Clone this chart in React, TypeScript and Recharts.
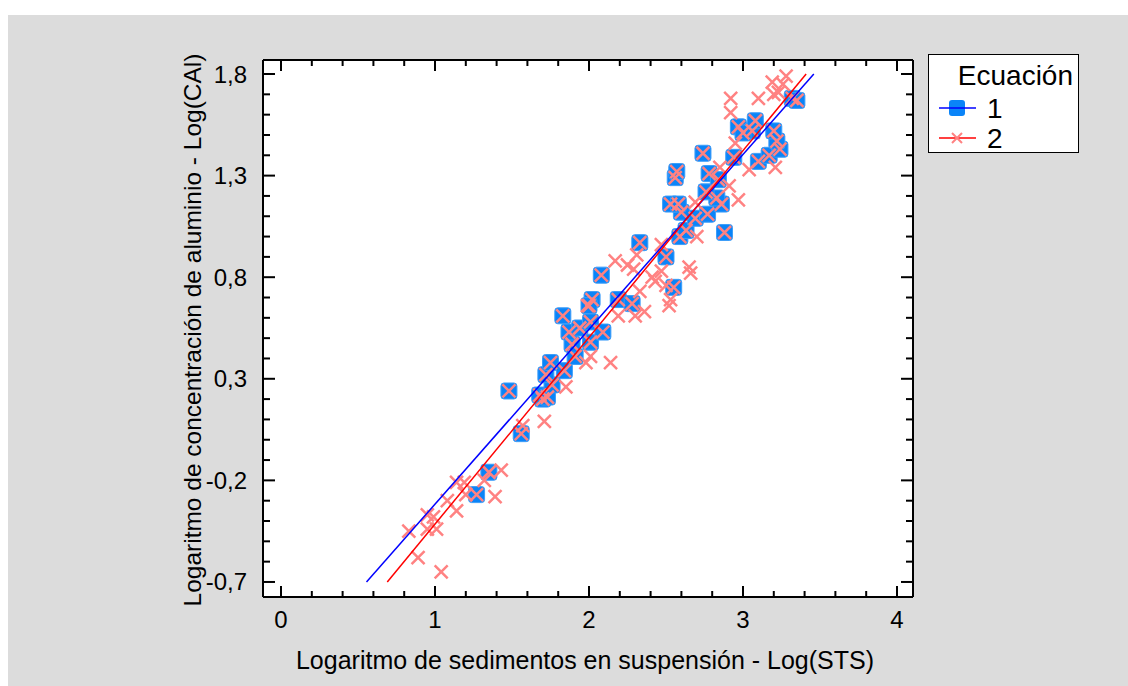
import React from 'react';
import { ScatterChart, Scatter, XAxis, YAxis } from 'recharts';

// Ecuación 1: observations drawn as blue squares
const ecuacion1 = [
  { x: 1.27, y: -0.27 }, { x: 1.35, y: -0.16 }, { x: 1.48, y: 0.24 }, { x: 1.56, y: 0.03 },
  { x: 1.70, y: 0.2 }, { x: 1.68, y: 0.22 }, { x: 1.73, y: 0.21 }, { x: 1.76, y: 0.27 },
  { x: 1.72, y: 0.32 }, { x: 1.75, y: 0.38 }, { x: 1.84, y: 0.34 }, { x: 1.91, y: 0.41 },
  { x: 1.89, y: 0.47 }, { x: 2.01, y: 0.48 }, { x: 1.87, y: 0.53 }, { x: 1.94, y: 0.55 },
  { x: 2.01, y: 0.58 }, { x: 2.09, y: 0.53 }, { x: 1.83, y: 0.61 }, { x: 2.02, y: 0.69 },
  { x: 2.0, y: 0.66 }, { x: 2.19, y: 0.69 }, { x: 2.28, y: 0.67 }, { x: 2.08, y: 0.81 },
  { x: 2.33, y: 0.97 }, { x: 2.5, y: 0.9 }, { x: 2.55, y: 0.75 }, { x: 2.59, y: 1.0 },
  { x: 2.63, y: 1.03 }, { x: 2.69, y: 1.09 }, { x: 2.77, y: 1.11 }, { x: 2.6, y: 1.12 },
  { x: 2.53, y: 1.16 }, { x: 2.58, y: 1.16 }, { x: 2.86, y: 1.16 }, { x: 2.83, y: 1.19 },
  { x: 2.76, y: 1.22 }, { x: 2.88, y: 1.02 }, { x: 2.56, y: 1.29 }, { x: 2.57, y: 1.32 },
  { x: 2.78, y: 1.31 }, { x: 2.84, y: 1.28 }, { x: 2.74, y: 1.41 }, { x: 2.94, y: 1.39 },
  { x: 3.1, y: 1.37 }, { x: 3.17, y: 1.4 }, { x: 3.24, y: 1.43 }, { x: 3.22, y: 1.47 },
  { x: 3.2, y: 1.52 }, { x: 2.97, y: 1.54 }, { x: 3.06, y: 1.52 }, { x: 3.08, y: 1.57 },
  { x: 3.0, y: 1.51 }, { x: 3.32, y: 1.68 }, { x: 3.35, y: 1.67 },
];

// Ecuación 2: further observations drawn only as pink crosses
const ecuacion2Extra = [
  { x: 1.04, y: -0.65 }, { x: 0.89, y: -0.58 }, { x: 0.83, y: -0.45 }, { x: 0.95, y: -0.37 },
  { x: 0.99, y: -0.38 }, { x: 0.95, y: -0.44 }, { x: 1.01, y: -0.44 }, { x: 1.14, y: -0.35 },
  { x: 1.08, y: -0.3 }, { x: 1.14, y: -0.21 }, { x: 1.19, y: -0.21 }, { x: 1.2, y: -0.27 },
  { x: 1.32, y: -0.2 }, { x: 1.39, y: -0.28 }, { x: 1.43, y: -0.15 }, { x: 1.57, y: 0.07 },
  { x: 1.71, y: 0.09 }, { x: 1.85, y: 0.26 }, { x: 1.98, y: 0.38 }, { x: 2.01, y: 0.41 },
  { x: 2.14, y: 0.38 }, { x: 1.99, y: 0.66 }, { x: 2.19, y: 0.61 }, { x: 2.3, y: 0.61 },
  { x: 2.36, y: 0.63 }, { x: 2.33, y: 0.73 }, { x: 2.17, y: 0.88 }, { x: 2.25, y: 0.86 },
  { x: 2.31, y: 0.91 }, { x: 2.29, y: 0.84 }, { x: 2.41, y: 0.8 }, { x: 2.43, y: 0.78 },
  { x: 2.47, y: 0.83 }, { x: 2.5, y: 0.76 }, { x: 2.53, y: 0.69 }, { x: 2.52, y: 0.66 },
  { x: 2.65, y: 0.85 }, { x: 2.66, y: 0.82 }, { x: 2.47, y: 0.96 }, { x: 2.7, y: 1.0 },
  { x: 2.69, y: 1.17 }, { x: 2.85, y: 1.34 }, { x: 2.91, y: 1.25 }, { x: 2.97, y: 1.18 },
  { x: 3.04, y: 1.33 }, { x: 3.21, y: 1.34 }, { x: 2.95, y: 1.46 }, { x: 2.92, y: 1.68 },
  { x: 2.92, y: 1.61 }, { x: 3.1, y: 1.68 }, { x: 3.19, y: 1.76 }, { x: 3.2, y: 1.7 },
  { x: 3.28, y: 1.79 }, { x: 3.26, y: 1.75 }, { x: 3.23, y: 1.71 },
];
const ecuacion2 = [...ecuacion1, ...ecuacion2Extra];

// fitted lines (end points)
const ajuste1 = [{ x: 0.555, y: -0.7 }, { x: 3.46, y: 1.8 }];
const ajuste2 = [{ x: 0.69, y: -0.7 }, { x: 3.41, y: 1.8 }];

const xTicks = [0, 0.2, 0.4, 0.6, 0.8, 1, 1.2, 1.4, 1.6, 1.8, 2, 2.2, 2.4, 2.6, 2.8, 3, 3.2, 3.4, 3.6, 3.8, 4];
const xMajor = [0, 1, 2, 3, 4];
const yTicks = [-0.7, -0.6, -0.5, -0.4, -0.3, -0.2, -0.1, 0, 0.1, 0.2, 0.3, 0.4, 0.5, 0.6, 0.7, 0.8, 0.9, 1, 1.1, 1.2, 1.3, 1.4, 1.5, 1.6, 1.7, 1.8];
const yMajor = [-0.7, -0.2, 0.3, 0.8, 1.3, 1.8];

const xDomain = [-0.117, 4.104];
const yDomain = [-0.774, 1.869];

const FONT = '"Liberation Sans", Arial, sans-serif';
const isIn = (list: number[], v: number) => list.some(m => Math.abs(m - v) < 1e-6);
const fmtY = (v: number) => v.toFixed(1).replace('.', ',');

const BottomTick = (p: any) => {
  const v = p.payload.value;
  const major = isIn(xMajor, v);
  return (
    <g>
      <line x1={p.x} x2={p.x} y1={p.y} y2={p.y - (major ? 11 : 6)} stroke="#000" strokeWidth={2} />
      {major && (
        <text x={p.x} y={p.y + 31} textAnchor="middle" fontFamily={FONT} fontSize={24} fill="#000">{v}</text>
      )}
    </g>
  );
};
const TopTick = (p: any) => {
  const major = isIn(xMajor, p.payload.value);
  return <line x1={p.x} x2={p.x} y1={p.y} y2={p.y + (major ? 11 : 6)} stroke="#000" strokeWidth={2} />;
};
const LeftTick = (p: any) => {
  const v = p.payload.value;
  const major = isIn(yMajor, v);
  return (
    <g>
      <line x1={p.x} x2={p.x + (major ? 12 : 7)} y1={p.y} y2={p.y} stroke="#000" strokeWidth={2} />
      {major && (
        <text x={p.x - 16} y={p.y + 8.5} textAnchor="end" fontFamily={FONT} fontSize={24} fill="#000">{fmtY(v)}</text>
      )}
    </g>
  );
};
const RightTick = (p: any) => {
  const major = isIn(yMajor, p.payload.value);
  return <line x1={p.x} x2={p.x - (major ? 12 : 7)} y1={p.y} y2={p.y} stroke="#000" strokeWidth={2} />;
};

const Square = (p: any) => (
  <rect x={p.cx - 8} y={p.cy - 8} width={16} height={16} rx={3} fill="#0a84f8" stroke="#3d9df8" strokeWidth={1} />
);
const Cross = (p: any) => (
  <path
    d={`M${p.cx - 6.5},${p.cy - 6.5}L${p.cx + 6.5},${p.cy + 6.5}M${p.cx + 6.5},${p.cy - 6.5}L${p.cx - 6.5},${p.cy + 6.5}`}
    stroke="#ff8282" strokeWidth={2.5} fill="none"
  />
);
const NoDot = () => <g />;

const axisLine = { stroke: '#000', strokeWidth: 2 };

export default function App() {
  return (
    <div style={{ position: 'absolute', left: 8, top: 15, width: 1120, height: 671, background: '#dcdcdc', fontFamily: FONT }}>
      <ScatterChart width={1120} height={671} margin={{ top: 44, right: 214, bottom: 88, left: 254 }}>
        <rect x={255} y={45} width={650} height={537} fill="#fff" />
        <XAxis xAxisId="b" type="number" dataKey="x" orientation="bottom" domain={xDomain} allowDataOverflow
          ticks={xTicks} interval={0} height={1} tickSize={0} tickMargin={0} tickLine={false}
          axisLine={axisLine} tick={BottomTick} />
        <XAxis xAxisId="t" type="number" dataKey="x" orientation="top" domain={xDomain} allowDataOverflow
          ticks={xTicks} interval={0} height={1} tickSize={0} tickMargin={0} tickLine={false}
          axisLine={axisLine} tick={TopTick} />
        <YAxis yAxisId="l" type="number" dataKey="y" orientation="left" domain={yDomain} allowDataOverflow
          ticks={yTicks} interval={0} width={1} tickSize={0} tickMargin={0} tickLine={false}
          axisLine={axisLine} tick={LeftTick} />
        <YAxis yAxisId="r" type="number" dataKey="y" orientation="right" domain={yDomain} allowDataOverflow
          ticks={yTicks} interval={0} width={1} tickSize={0} tickMargin={0} tickLine={false}
          axisLine={axisLine} tick={RightTick} />
        <Scatter name="1" data={ecuacion1} xAxisId="b" yAxisId="l" shape={Square} isAnimationActive={false} />
        <Scatter name="2" data={ecuacion2} xAxisId="b" yAxisId="l" shape={Cross} isAnimationActive={false} />
        <Scatter data={ajuste1} xAxisId="t" yAxisId="r" shape={NoDot} line={{ stroke: '#0000ff', strokeWidth: 1.5 }} isAnimationActive={false} />
        <Scatter data={ajuste2} xAxisId="t" yAxisId="r" shape={NoDot} line={{ stroke: '#ff0000', strokeWidth: 1.5 }} isAnimationActive={false} />
      </ScatterChart>

      <div style={{ position: 'absolute', left: 577, top: 645, transform: 'translate(-50%, -50%)', fontSize: 25, whiteSpace: 'nowrap', lineHeight: 1 }}>
        Logaritmo de sedimentos en suspensión - Log(STS)
      </div>
      <div style={{ position: 'absolute', left: 185, top: 315, transform: 'translate(-50%, -50%) rotate(-90deg)', fontSize: 24.5, whiteSpace: 'nowrap', lineHeight: 1 }}>
        Logaritmo de concentración de aluminio - Log(CAl)
      </div>

      <div style={{ position: 'absolute', left: 920, top: 39, width: 149, height: 97, border: '1px solid #000', background: '#fff' }}>
        <div style={{ position: 'absolute', left: 0, right: 0, top: 7, textAlign: 'right', paddingRight: 5, fontSize: 28, lineHeight: 1 }}>Ecuación</div>
        <svg style={{ position: 'absolute', left: 0, top: 40 }} width={60} height={56}>
          <rect x={20} y={5} width={16} height={16} rx={3} fill="#0a84f8" />
          <line x1={10} x2={47} y1={13} y2={13} stroke="#0000ff" strokeWidth={1.5} />
          <line x1={10} x2={47} y1={43} y2={43} stroke="#ff0000" strokeWidth={1.5} />
          <path d="M23,38L33,48M33,38L23,48" stroke="#ff8282" strokeWidth={2} />
        </svg>
        <div style={{ position: 'absolute', left: 58, top: 40, fontSize: 28, lineHeight: 1 }}>1</div>
        <div style={{ position: 'absolute', left: 58, top: 70, fontSize: 28, lineHeight: 1 }}>2</div>
      </div>
    </div>
  );
}
